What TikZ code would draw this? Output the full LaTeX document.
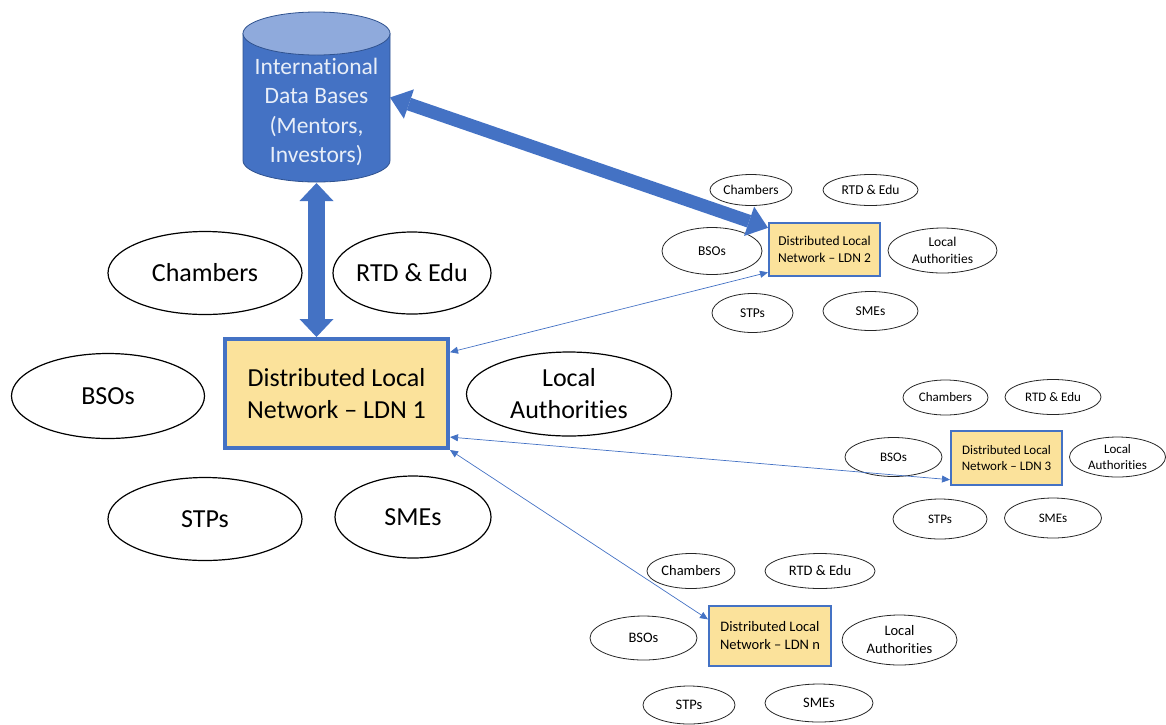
\documentclass[tikz,border=0pt]{standalone}
\usepackage{fontspec}
\setmainfont{Carlito}[Ligatures={NoCommon,NoRare}]
\usetikzlibrary{shapes.geometric,arrows.meta}
\definecolor{ldnblue}{HTML}{4472C4}
\definecolor{ldnfill}{HTML}{FBE29B}
\definecolor{dbblue}{HTML}{4472C4}
\definecolor{dbtop}{HTML}{8FAADC}
\definecolor{dbline}{HTML}{2F528F}
\definecolor{dbtextc}{HTML}{E8EEF8}
\begin{document}
\begin{tikzpicture}[x=1pt,y=-1pt,
  bigell/.style={ellipse, draw=black, line width=1.2pt, inner sep=0pt, align=center, font=\fontsize{26}{32}\selectfont},
  sell/.style={ellipse, draw=black!85, line width=0.8pt, inner sep=0pt, align=center},
  ldnbig/.style={rectangle, draw=ldnblue, fill=ldnfill, line width=4pt, inner sep=0pt, align=center, font=\fontsize{26}{32}\selectfont},
  ldnsmall/.style={rectangle, draw=ldnblue, fill=ldnfill, line width=2pt, inner sep=0pt, align=center},
  fatarrow/.style={draw=ldnblue, <->},
  thinarrow/.style={draw=ldnblue, line width=0.7pt, >={Triangle[length=8pt,width=7pt]}, <->},
  fa/.style={font=\fontsize{13.5}{17}\selectfont},
  fb/.style={font=\fontsize{13}{16.5}\selectfont},
  fc/.style={font=\fontsize{14.5}{18}\selectfont}
]
\useasboundingbox (0,0) rectangle (1166,724);

% cylinder (International Data Bases)
\filldraw[fill=dbblue, draw=dbline, line width=0.8pt]
  (243,33.5) -- (243,160.5) arc[start angle=180, end angle=360, x radius=73.5pt, y radius=21.5pt]
  -- (390,33.5) -- cycle;
\filldraw[fill=dbtop, draw=dbline, line width=0.8pt] (316.5,33.5) ellipse [x radius=73.5pt, y radius=21.5pt];
\node[minimum width=147pt, minimum height=171pt, inner sep=0pt, outer sep=0pt] (db) at (316.5,97.5) {};
\node[align=center, text=dbtextc, font=\fontsize{23.5}{29.5}\selectfont] (dbtext) at (316.5,112)
  {International\\Data Bases\\(Mentors,\\Investors)};

% LDN 1 cluster
\node[ldnbig, minimum width=223pt, minimum height=109pt] (ldn1) at (336.5,393.5) {Distributed Local\\Network -- LDN 1};
\node[bigell, minimum width=194pt, minimum height=83pt] (c1) at (205,273) {Chambers};
\node[bigell, minimum width=158pt, minimum height=82pt] (r1) at (412,273) {RTD \& Edu};
\node[bigell, minimum width=193pt, minimum height=85pt] (b1) at (108,396) {BSOs};
\node[bigell, minimum width=205pt, minimum height=84pt] (l1) at (569,394) {Local\\Authorities};
\node[bigell, minimum width=194pt, minimum height=83pt] (p1) at (205,519) {STPs};
\node[bigell, minimum width=156pt, minimum height=82pt] (s1) at (413,517) {SMEs};

% LDN 2 cluster
\node[ldnsmall, fa, minimum width=111pt, minimum height=53pt] (ldn2) at (824.5,249.5) {Distributed Local\\Network -- LDN 2};
\node[sell, fa, minimum width=82pt, minimum height=31pt] (c2) at (751,190) {Chambers};
\node[sell, fa, minimum width=95pt, minimum height=31pt] (r2) at (870.5,190) {RTD \& Edu};
\node[sell, fa, minimum width=100pt, minimum height=47pt] (b2) at (712,251) {BSOs};
\node[sell, fa, minimum width=109pt, minimum height=45pt] (l2) at (942.5,250.5) {Local\\Authorities};
\node[sell, fa, minimum width=81pt, minimum height=39pt] (p2) at (752.5,313) {STPs};
\node[sell, fa, minimum width=95pt, minimum height=39pt] (s2) at (870.5,311) {SMEs};

% LDN 3 cluster
\node[ldnsmall, fb, minimum width=111pt, minimum height=54pt] (ldn3) at (1006.5,458) {Distributed Local\\Network -- LDN 3};
\node[sell, fb, minimum width=85pt, minimum height=35pt] (c3) at (945.5,397.5) {Chambers};
\node[sell, fb, minimum width=96pt, minimum height=35pt] (r3) at (1053,397) {RTD \& Edu};
\node[sell, fb, minimum width=97pt, minimum height=39pt] (b3) at (893.5,457) {BSOs};
\node[sell, fb, minimum width=96pt, minimum height=40pt] (l3) at (1117.5,457) {Local\\Authorities};
\node[sell, fb, minimum width=94pt, minimum height=40pt] (p3) at (940,519) {STPs};
\node[sell, fb, minimum width=97pt, minimum height=40pt] (s3) at (1053,518) {SMEs};

% LDN n cluster
\node[ldnsmall, fc, minimum width=122pt, minimum height=60pt] (ldnn) at (770,636) {Distributed Local\\Network -- LDN n};
\node[sell, fc, minimum width=88pt, minimum height=35pt] (cn) at (691,571) {Chambers};
\node[sell, fc, minimum width=110pt, minimum height=35pt] (rn) at (820,571) {RTD \& Edu};
\node[sell, fc, minimum width=107pt, minimum height=44pt] (bn) at (643.5,638) {BSOs};
\node[sell, fc, minimum width=115pt, minimum height=50pt] (ln) at (899.5,640) {Local\\Authorities};
\node[sell, fc, minimum width=92pt, minimum height=38pt] (pn) at (689,705) {STPs};
\node[sell, fc, minimum width=108pt, minimum height=38pt] (sn) at (819,703) {SMEs};

% fat arrows
\draw[fatarrow, line width=17pt, >={Triangle[length=18pt,width=34pt,line width=0pt]}]
  (db.south) -- (db.south |- ldn1.north);
\draw[fatarrow, line width=13pt, >={Triangle[length=20pt,width=31pt,line width=0pt]}]
  (db.east) -- (ldn2.159);

% thin arrows
\draw[thinarrow] (ldn1.20) -- (ldn2.202);
\draw[thinarrow] (ldn1.339) -- (ldn3.201);
\draw[thinarrow] (ldn1.south east) -- (ldnn.165);
\end{tikzpicture}
\end{document}
